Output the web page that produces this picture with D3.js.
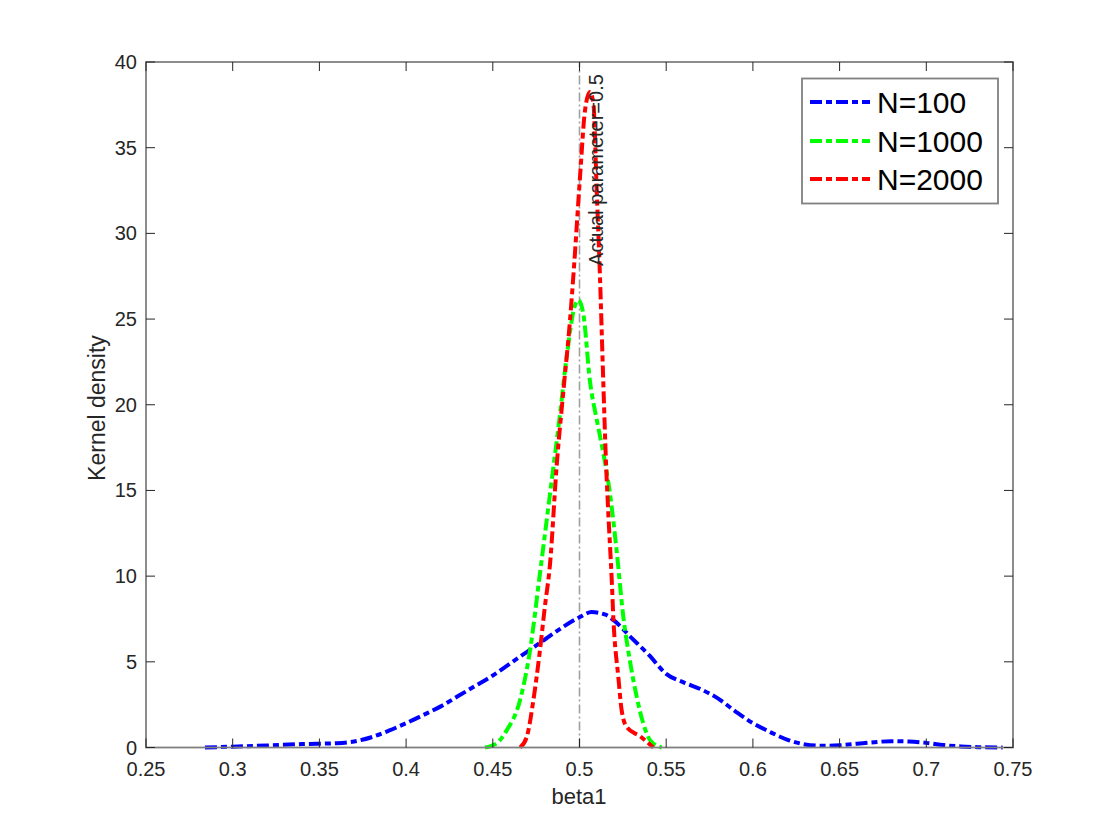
<!DOCTYPE html>
<html><head><meta charset="utf-8">
<script src="https://cdn.jsdelivr.net/npm/d3@7"></script>
<style>body{margin:0;background:#fff;} text{font-family:"Liberation Sans",Arial,Helvetica,sans-serif;}</style>
</head><body><svg id="c" width="1120" height="840"></svg>
<script>
// ---- data ----
const xTicks = [0.25,0.3,0.35,0.4,0.45,0.5,0.55,0.6,0.65,0.7,0.75];
const yTicks = [0,5,10,15,20,25,30,35,40];
const seriesNames = ["N=100","N=1000","N=2000"];
const seriesColors = ["#0000ff","#00ff00","#ff0000"];
const n100X = [0.284,0.30,0.32,0.34,0.36,0.37,0.38,0.39,0.40,0.41,0.42,0.43,0.44,0.45,0.46,0.47,0.48,0.49,0.50,0.507,0.515,0.52,0.53,0.54,0.55,0.56,0.57,0.58,0.59,0.60,0.61,0.62,0.63,0.64,0.65,0.66,0.67,0.68,0.69,0.70,0.71,0.72,0.73,0.744];
const n100Y = [0.0,0.05,0.12,0.2,0.25,0.35,0.6,0.98,1.42,1.9,2.4,3.0,3.6,4.2,4.9,5.6,6.3,7.0,7.6,7.9,7.75,7.4,6.4,5.4,4.3,3.8,3.4,2.85,2.1,1.42,0.9,0.45,0.18,0.1,0.13,0.22,0.31,0.37,0.35,0.27,0.14,0.06,0.02,0.0];
const n1000X = [0.4455,0.452,0.458,0.4657,0.4715,0.477,0.483,0.4888,0.4926,0.4974,0.4993,0.5022,0.506,0.51,0.5137,0.5176,0.5214,0.5253,0.529,0.533,0.5368,0.5407,0.5474];
const n1000Y = [0,0.23,1.0,2.76,5.68,10.0,14.8,19.5,22.8,25.8,26.1,25.3,21.4,19.1,17.2,14.8,11.5,7.6,5.1,2.95,1.4,0.43,0];
const n2000X = [0.4657,0.4696,0.4734,0.4772,0.48,0.483,0.4868,0.4907,0.4945,0.4968,0.5003,0.5032,0.506,0.508,0.51,0.5118,0.5137,0.5153,0.5166,0.5186,0.5195,0.5224,0.5243,0.5272,0.535,0.5426];
const n2000Y = [0,0.62,2.76,5.68,8.2,10.7,16.4,20.8,24.9,28.0,33.3,37.2,38.25,37.6,32.3,27.5,21.4,16.6,13.7,9.76,7.6,4.1,2.18,1.2,0.65,0];
const actualParam = 0.5;
const annotText = "Actual parameter=0.5";
const annotX = 0.5135, annotY = 28.1;

// ---- layout ----
const svg = d3.select("#c");
const L=146, R=1013, T=62, B=747.5;
const x = d3.scaleLinear().domain([0.25,0.75]).range([L,R]);
const y = d3.scaleLinear().domain([0,40]).range([B,T]);
const axisCol="#808080", txtCol="#262626";
const dash = "12,4,6,4";

// vertical reference line
svg.append("line").attr("x1",x(actualParam)).attr("x2",x(actualParam))
  .attr("y1",y(0)).attr("y2",y(40))
  .attr("stroke","#a0a0a0").attr("stroke-width",1.6).attr("stroke-dasharray","9,3,2,3");

// curves
const series = [[n100X,n100Y],[n1000X,n1000Y],[n2000X,n2000Y]];
const line = d3.line().x(d=>x(d[0])).y(d=>y(d[1])).curve(d3.curveMonotoneX);
series.forEach((s,i)=>{
  const pts = s[0].map((v,j)=>[v,s[1][j]]);
  svg.append("path").datum(pts).attr("d",line).attr("fill","none")
    .attr("stroke",seriesColors[i]).attr("stroke-width",4)
    .attr("stroke-dasharray",dash);
});

// annotation
svg.append("text").attr("transform",`translate(${x(annotX)},${y(annotY)}) rotate(-90)`)
  .attr("font-size",20).attr("fill",txtCol).text(annotText);

// axes box
const g = svg.append("g");
g.append("rect").attr("x",L).attr("y",T).attr("width",R-L).attr("height",B-T)
  .attr("fill","none").attr("stroke",axisCol).attr("stroke-width",1.8);
const tl=9;
xTicks.forEach(t=>{
  g.append("line").attr("x1",x(t)).attr("x2",x(t)).attr("y1",B).attr("y2",B-tl).attr("stroke",txtCol).attr("stroke-width",1);
  g.append("line").attr("x1",x(t)).attr("x2",x(t)).attr("y1",T).attr("y2",T+tl).attr("stroke",txtCol).attr("stroke-width",1);
  g.append("text").attr("x",x(t)).attr("y",776).attr("text-anchor","middle").attr("font-size",20).attr("fill",txtCol).text(d3.format("")(t));
});
yTicks.forEach(t=>{
  g.append("line").attr("x1",L).attr("x2",L+tl).attr("y1",y(t)).attr("y2",y(t)).attr("stroke",txtCol).attr("stroke-width",1);
  g.append("line").attr("x1",R).attr("x2",R-tl).attr("y1",y(t)).attr("y2",y(t)).attr("stroke",txtCol).attr("stroke-width",1);
  g.append("text").attr("x",137).attr("y",y(t)+7).attr("text-anchor","end").attr("font-size",20).attr("fill",txtCol).text(t);
});
// axis labels
svg.append("text").attr("x",579).attr("y",804).attr("text-anchor","middle").attr("font-size",22).attr("fill",txtCol).text("beta1");
svg.append("text").attr("transform","translate(105,408) rotate(-90)").attr("text-anchor","middle").attr("font-size",23).attr("fill",txtCol).text("Kernel density");

// legend
const lg = svg.append("g");
lg.append("rect").attr("x",802).attr("y",78.5).attr("width",196).attr("height",125)
  .attr("fill","#fff").attr("stroke",axisCol).attr("stroke-width",1.8);
const rowY=[102,141,179];
seriesNames.forEach((n,i)=>{
  lg.append("line").attr("x1",810).attr("x2",870).attr("y1",rowY[i]).attr("y2",rowY[i])
    .attr("stroke",seriesColors[i]).attr("stroke-width",4).attr("stroke-dasharray",dash);
  lg.append("text").attr("x",877).attr("y",rowY[i]+11).attr("font-size",30).attr("fill","#000").text(n);
});
</script></body></html>
